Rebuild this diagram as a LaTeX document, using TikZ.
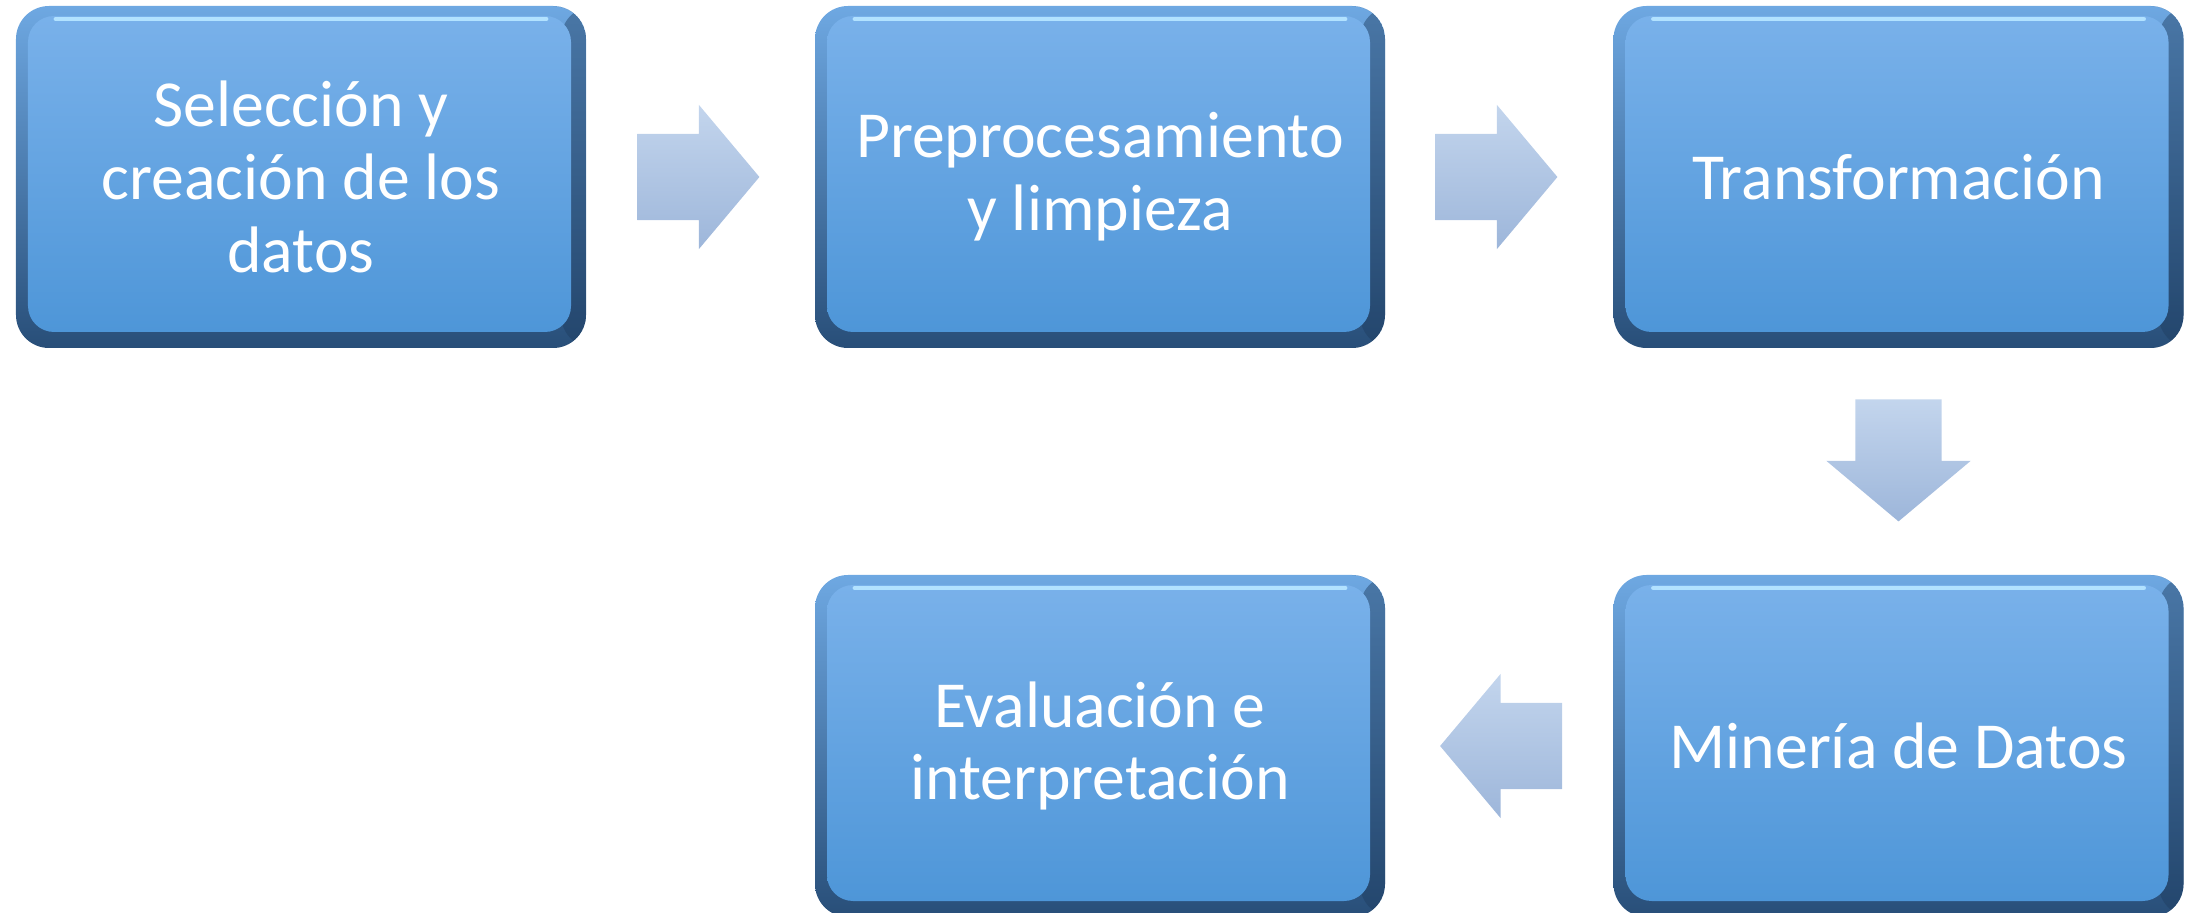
\documentclass[tikz,border=0pt]{standalone}
\usepackage{fontspec}
\setmainfont{Carlito}
\usetikzlibrary{shapes.arrows}

\definecolor{cajaarriba}{RGB}{121,177,234}
\definecolor{cajaabajo}{RGB}{78,150,216}
\definecolor{bordearriba}{RGB}{110,168,226}
\definecolor{bordeabajo}{RGB}{40,78,120}
\definecolor{bordeder}{RGB}{30,60,95}
\definecolor{brillo}{RGB}{178,226,255}
\definecolor{flechaarriba}{RGB}{195,213,237}
\definecolor{flechaabajo}{RGB}{157,182,218}

\begin{document}
\begin{tikzpicture}
  \tikzstyle{every node}=[inner sep=0pt]
  \tikzstyle{etapa}=[rounded corners=0.33cm, minimum width=5.7cm, minimum height=3.42cm,
    top color=bordearriba, bottom color=bordeabajo, text=white, align=center,
    font=\fontsize{18.7}{20.7}\selectfont,
    path picture={
      \fill[bordeder, opacity=0.45] (path picture bounding box.north east) rectangle ([xshift=-0.25cm]path picture bounding box.south east);
      \shade[top color=cajaarriba, bottom color=cajaabajo, rounded corners=0.26cm]
        ([xshift=0.12cm,yshift=-0.1cm]path picture bounding box.north west) rectangle
        ([xshift=-0.15cm,yshift=0.16cm]path picture bounding box.south east);
      \draw[brillo, line width=1.4pt, line cap=round]
        ([xshift=0.4cm,yshift=-0.13cm]path picture bounding box.north west) --
        ([xshift=-0.4cm,yshift=-0.13cm]path picture bounding box.north east);
    }]
  \tikzstyle{flecha}=[single arrow, anchor=tail, inner xsep=0pt, inner ysep=0.425cm,
    minimum height=1.22cm, single arrow head extend=0.29cm, single arrow tip angle=100,
    top color=flechaarriba, bottom color=flechaabajo]
  \tikzstyle{flechav}=[flecha, inner xsep=0.425cm, inner ysep=0pt]

  \useasboundingbox (0,0) rectangle (21.88,-9.13);

  \node[etapa] (sel) at (3.01,-1.77) {Selección y\\creación de los\\datos};
  \node[etapa] (pre) at (11.0,-1.77) {Preprocesamiento\\y limpieza};
  \node[etapa] (tra) at (18.985,-1.77) {Transformación};
  \node[etapa] (min) at (18.985,-7.46) {Minería de Datos};
  \node[etapa] (eva) at (11.0,-7.46) {Evaluación e\\interpretación};

  \node[flecha] (f1) at ([xshift=0.5cm]sel.east) {};
  \node[flecha] (f2) at ([xshift=0.49cm]pre.east) {};
  \node[flechav, shape border rotate=270] (f3) at ([yshift=-0.5cm]tra.south) {};
  \node[flecha, shape border rotate=180] (f4) at ([xshift=-0.5cm]min.west) {};
\end{tikzpicture}
\end{document}
